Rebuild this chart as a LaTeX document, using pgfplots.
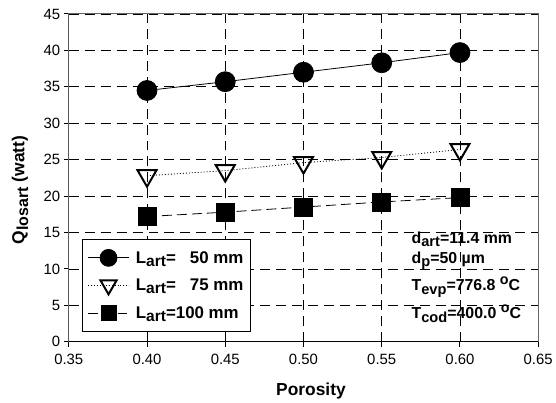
\documentclass[border=0pt]{standalone}
\usepackage{pgfplots}
\pgfplotsset{compat=1.18}
\usepackage{fontspec}
\setmainfont{Liberation Sans}
\newcommand{\sbs}[1]{\raisebox{-0.22em}{\scalebox{0.92}{#1}}}
\newcommand{\degsym}{\raisebox{0.38em}{\scalebox{0.9}{o}}}
\begin{document}
\begin{tikzpicture}
\begin{axis}[
  scale only axis, width=471bp, height=329bp,
  xmin=0.35, xmax=0.65, ymin=0, ymax=45,
  xtick={0.35,0.40,0.45,0.50,0.55,0.60,0.65},
  ytick={0,5,10,15,20,25,30,35,40,45},
  /pgf/number format/assume math mode=true,
  xticklabel style={yshift=-4bp, /pgf/number format/.cd,fixed,fixed zerofill,precision=2},
  tick label style={font=\fontsize{15}{18}\selectfont},
  xlabel={Porosity}, ylabel={Q\sbs{losart} (watt)},
  label style={font=\fontsize{17.5}{20}\selectfont\bfseries},
  xlabel style={at={(axis description cs:0.516,-0.163)}, anchor=base},
  ylabel style={at={(axis description cs:-0.104,0.463)}, anchor=center},
  grid=major,
  major grid style={black, dash pattern=on 10bp off 6bp, line width=0.9bp},
  tick align=outside, xtick pos=bottom, ytick pos=left,
  major tick length=5bp,
  tick style={black, line width=1bp},
  axis line style={black!60, line width=1bp},
  legend cell align=left,
  legend style={at={(rel axis cs:0.0276,0.030)}, anchor=south west,
    draw=black, fill=white, line width=1bp,
    font=\fontsize{17}{20}\selectfont\bfseries,
    nodes={inner sep=2bp},
    /tikz/every odd column/.append style={column sep=4bp},
    inner xsep=5bp, inner ysep=10bp, row sep=10bp},
  legend image code/.code={\draw[#1,mark repeat=2,mark phase=2, every mark/.append style={scale=0.85}] plot coordinates {(0bp,0bp) (21bp,0bp) (42bp,0bp)};},
]
\addplot[black, line width=0.8bp, mark=*, mark size=10bp, mark options={solid, fill=black}]
  coordinates {(0.40,34.5) (0.45,35.7) (0.50,37.0) (0.55,38.3) (0.60,39.7)};
\addlegendentry{L\sbs{art}=\hphantom{0} 50 mm}
\addplot[black, line width=0.8bp, dash pattern=on 1bp off 2bp, mark=triangle, mark size=11bp, mark options={solid, fill=white, rotate=180, line width=2bp}]
  coordinates {(0.40,22.8) (0.45,23.5) (0.50,24.6) (0.55,25.3) (0.60,26.4)};
\addlegendentry{L\sbs{art}=\hphantom{0} 75 mm}
\addplot[black, line width=0.8bp, dash pattern=on 10bp off 5bp, mark=square*, mark size=9bp, mark options={solid, fill=black}]
  coordinates {(0.40,17.2) (0.45,17.8) (0.50,18.5) (0.55,19.2) (0.60,19.8)};
\addlegendentry{L\sbs{art}=100 mm}
\draw[black, line width=1.4bp] (rel axis cs:0,1) -- (rel axis cs:0,0) -- (rel axis cs:1,0);
\coordinate (ll) at (rel axis cs:0,0);
\coordinate (ur) at (rel axis cs:1,1);
\begin{scope}[every node/.style={anchor=base west, inner sep=0pt, font=\fontsize{16}{19}\selectfont\bfseries}]
\node at (axis cs:0.569,13.5) {d\sbs{art}=11.4 mm};
\node at (axis cs:0.569,10.8) {d\sbs{p}=50 µm};
\node at (axis cs:0.569,7.0) {T\sbs{evp}=776.8 \degsym C};
\node at (axis cs:0.569,3.15) {T\sbs{cod}=400.0 \degsym C};
\end{scope}
\end{axis}
\path (ll) ++(-69bp,-60bp) coordinate (bbA);
\path (ur) ++(16bp,14bp) coordinate (bbB);
\path (bbA) rectangle (bbB);
\end{tikzpicture}
\end{document}
